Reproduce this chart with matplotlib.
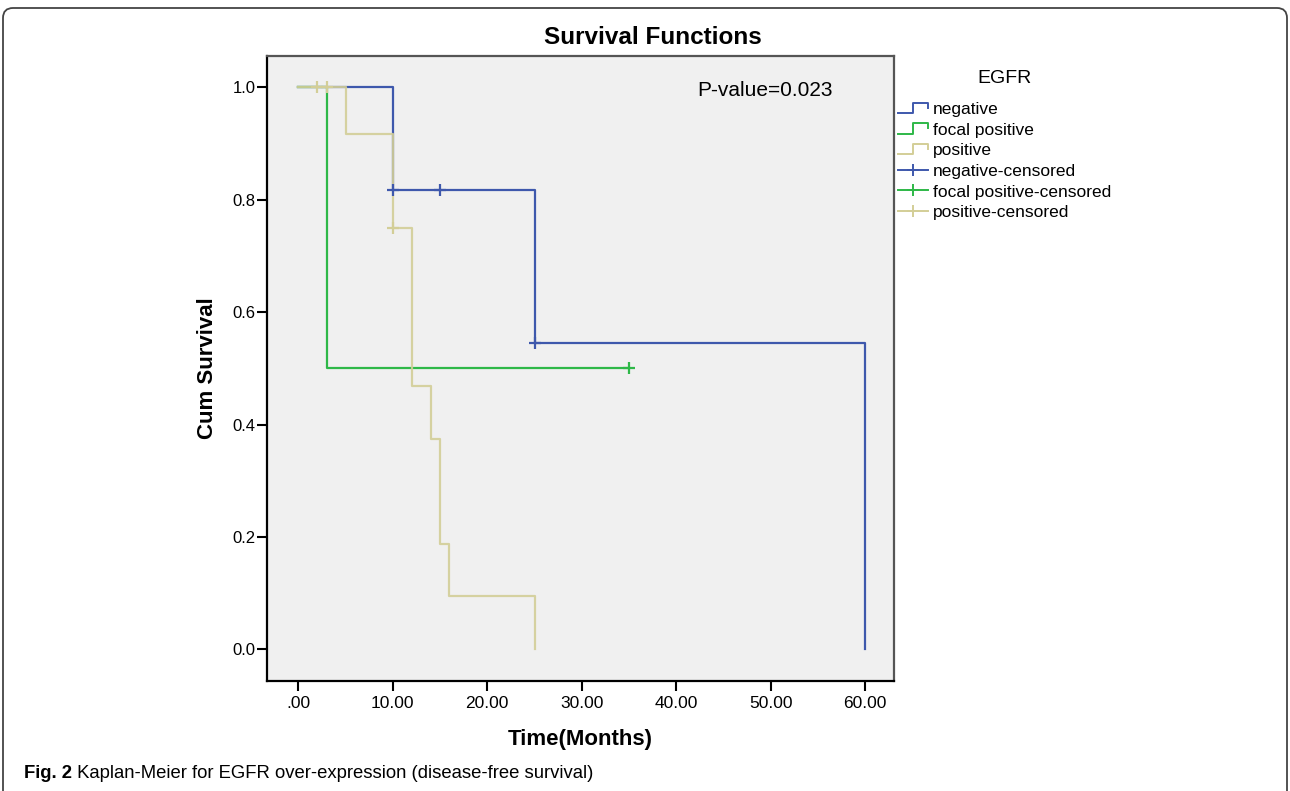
import matplotlib
matplotlib.use('Agg')
import matplotlib.pyplot as plt
from matplotlib.lines import Line2D
from matplotlib.legend_handler import HandlerBase
from matplotlib.patches import FancyBboxPatch
from matplotlib.transforms import IdentityTransform

plt.rcParams['font.family'] = ['Liberation Sans', 'DejaVu Sans']

# Kaplan-Meier step curves (time in months, cumulative survival)
neg_t = [0, 10, 25, 60]
neg_s = [1.0, 0.818, 0.545, 0.0]
focal_t = [0, 3, 35]
focal_s = [1.0, 0.5, 0.5]
pos_t = [0, 5, 10, 12, 14, 15, 16, 25]
pos_s = [1.0, 0.917, 0.75, 0.469, 0.375, 0.188, 0.094, 0.0]

# censored observations
neg_cens_t = [10, 15, 25]
neg_cens_s = [0.818, 0.818, 0.545]
focal_cens_t = [35]
focal_cens_s = [0.5]
pos_cens_t = [2, 3, 10]
pos_cens_s = [1.0, 1.0, 0.75]

groups = ['negative', 'focal positive', 'positive']
colors = ['#3E58AC', '#2EB848', '#D3CE97']
x_ticks = [0, 10, 20, 30, 40, 50, 60]
x_labels = ['.00', '10.00', '20.00', '30.00', '40.00', '50.00', '60.00']
y_ticks = [0.0, 0.2, 0.4, 0.6, 0.8, 1.0]
y_labels = ['0.0', '0.2', '0.4', '0.6', '0.8', '1.0']


class StepHandler(HandlerBase):
    def create_artists(self, legend, orig_handle, xdescent, ydescent,
                       width, height, fontsize, trans):
        x0 = -xdescent
        y0 = -ydescent
        xs = [x0, x0 + 0.5 * width, x0 + 0.5 * width, x0 + width, x0 + width]
        ys = [y0 + 0.1 * height, y0 + 0.1 * height, y0 + 0.95 * height,
              y0 + 0.95 * height, y0 + 0.55 * height]
        line = Line2D(xs, ys, color=orig_handle.get_color(), lw=1.4)
        line.set_transform(trans)
        return [line]


fig = plt.figure(figsize=(12.9, 7.91), dpi=100)
ax = fig.add_axes([0.2072, 0.1391, 0.4858, 0.7901])
ax.set_facecolor('#F0F0F0')

lw = 1.6
ax.step(neg_t, neg_s, where='post', color=colors[0], lw=lw, zorder=2)
ax.step(focal_t, focal_s, where='post', color=colors[1], lw=lw, zorder=3)
ax.step(pos_t, pos_s, where='post', color=colors[2], lw=lw, alpha=0.9, zorder=4)

mk = dict(marker='+', ls='none', ms=9, mew=1.6, zorder=5)
ax.plot(neg_cens_t, neg_cens_s, color=colors[0], **mk)
ax.plot(focal_cens_t, focal_cens_s, color=colors[1], **mk)
ax.plot(pos_cens_t, pos_cens_s, color=colors[2], **mk)

ax.set_xlim(-3.28, 63.04)
ax.set_ylim(-0.0565, 1.056)
ax.set_xticks(x_ticks)
ax.set_xticklabels(x_labels)
ax.set_yticks(y_ticks)
ax.set_yticklabels(y_labels)
ax.tick_params(axis='both', direction='out', length=7, width=1.5,
               labelsize=12, colors='black')
ax.tick_params(axis='x', pad=4, labelsize=12.5)
ax.tick_params(axis='y', pad=1.5)
for side in ['left', 'bottom']:
    ax.spines[side].set_color('black')
    ax.spines[side].set_linewidth(1.6)
for side in ['top', 'right']:
    ax.spines[side].set_color('#555555')
    ax.spines[side].set_linewidth(1.6)

ax.set_xlabel('Time(Months)', fontsize=16, fontweight='bold')
ax.xaxis.set_label_coords(0.5, -0.094)
ax.xaxis.label.set_va('center')
ax.set_ylabel('Cum Survival', fontsize=16, fontweight='bold')
ax.yaxis.set_label_coords(-0.096, 0.5)
ax.yaxis.label.set_va('center')

ax.text(0.9027, 0.9456, 'P-value=0.023', transform=ax.transAxes,
        ha='right', va='center', fontsize=15)

fig.text(0.5058, 0.9532, 'Survival Functions', ha='center', va='center',
         fontsize=17.5, fontweight='bold')

# legend
handles = [Line2D([], [], color=c) for c in colors]
handles += [Line2D([], [], color=c, marker='+', ms=9, mew=1.4, lw=1.4)
            for c in colors]
labels = groups + [g + '-censored' for g in groups]
hmap = {h: StepHandler() for h in handles[:3]}
leg = fig.legend(handles, labels, title='EGFR', loc='upper left',
                 bbox_to_anchor=(898 / 1290, 1 - 70 / 791),
                 frameon=False, fontsize=12.5, title_fontsize=14,
                 handlelength=1.75, handletextpad=0.25, labelspacing=0.31,
                 borderpad=0, borderaxespad=0, numpoints=1, handler_map=hmap)
leg._legend_box.sep = 11

# caption
cap_font = ['Liberation Sans Narrow', 'Liberation Sans']
cap = fig.text(24 / 1290, 1 - 773 / 791, 'Fig. 2', ha='left', va='center',
               fontsize=13.3, fontweight='bold', family=cap_font)
ax.annotate(' Kaplan-Meier for EGFR over-expression (disease-free survival)',
            xy=(1, 0.5), xycoords=cap, ha='left', va='center', fontsize=13.3,
            family=cap_font, annotation_clip=False)

frame = FancyBboxPatch((3, -20), 1284, 803,
                       boxstyle='round,pad=0,rounding_size=10',
                       transform=IdentityTransform(), fill=False,
                       ec='#444444', lw=1.3)
fig.patches.append(frame)

fig.savefig('out.png', dpi=100)
